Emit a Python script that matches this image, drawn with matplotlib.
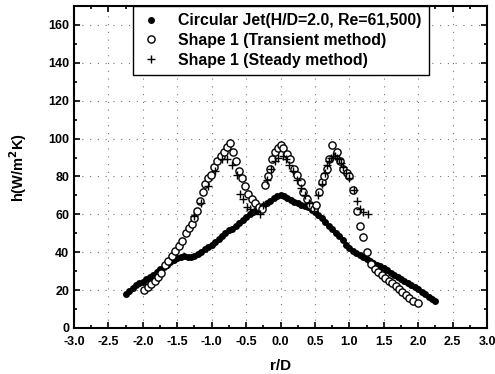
import numpy as np
import matplotlib
matplotlib.use("Agg")
import matplotlib.pyplot as plt
from matplotlib.ticker import MultipleLocator

# Circular jet (H/D=2.0, Re=61,500)
jet_r = [-2.25, -2.20, -2.15, -2.10, -2.05, -2.00, -1.95, -1.90, -1.85, -1.80,
         -1.75, -1.70, -1.65, -1.60, -1.55, -1.50, -1.45, -1.40, -1.35, -1.30,
         -1.25, -1.20, -1.15, -1.10, -1.05, -1.00, -0.95, -0.90, -0.85, -0.80,
         -0.75, -0.70, -0.65, -0.60, -0.55, -0.50, -0.45, -0.40, -0.35, -0.30,
         -0.25, -0.20, -0.15, -0.10, -0.05, 0.00, 0.05, 0.10, 0.15, 0.20,
         0.25, 0.30, 0.35, 0.40, 0.45, 0.50, 0.55, 0.60, 0.65, 0.70,
         0.75, 0.80, 0.85, 0.90, 0.95, 1.00, 1.05, 1.10, 1.15, 1.20,
         1.25, 1.30, 1.35, 1.40, 1.45, 1.50, 1.55, 1.60, 1.65, 1.70,
         1.75, 1.80, 1.85, 1.90, 1.95, 2.00, 2.05, 2.10, 2.15, 2.20, 2.25]
jet_h = [18, 19.5, 21, 22.5, 23.5, 24.5, 26, 27, 28, 29.5,
         31, 32, 33.5, 35, 36, 37, 37.5, 38, 37.5, 37.5,
         38, 39, 40, 41.5, 43, 44, 45.5, 47, 48.5, 50,
         51.5, 52.5, 54, 55.5, 57, 58.5, 60, 61, 62, 63,
         64.5, 66, 67, 68.5, 69.5, 70, 69.5, 68.5, 67.5, 66.5,
         66, 65, 64.5, 64, 62.5, 61, 59.5, 58, 56, 54,
         52, 50, 48.5, 46.5, 44, 42, 40.5, 39.5, 38.5, 37.5,
         36.5, 35.5, 34.5, 33.5, 32.5, 31.5, 30.5, 29, 28, 27,
         26, 25, 24, 22.5, 21.5, 20.5, 19, 18, 16.5, 15.5, 14.5]

# Shape 1 (Transient method)
tr_r = [-1.98, -1.93, -1.88, -1.83, -1.78, -1.73, -1.68, -1.63, -1.58, -1.53,
        -1.48, -1.43, -1.38, -1.33, -1.29, -1.25, -1.21, -1.17, -1.13, -1.10,
        -1.05, -1.01, -0.97, -0.92, -0.87, -0.82, -0.78, -0.73, -0.69, -0.65,
        -0.60, -0.56, -0.51, -0.47, -0.42, -0.37, -0.32, -0.27,
        -0.22, -0.18, -0.15, -0.12, -0.08, -0.04, 0.00, 0.04, 0.09, 0.14,
        0.19, 0.24, 0.29, 0.33, 0.38, 0.43, 0.48, 0.52, 0.56, 0.60,
        0.63, 0.67, 0.71, 0.75, 0.82, 0.87, 0.91, 0.96, 1.00, 1.05,
        1.11, 1.16, 1.20, 1.26, 1.32, 1.37, 1.42, 1.47, 1.52, 1.57,
        1.62, 1.67, 1.72, 1.77, 1.82, 1.87, 1.93, 2.00]
tr_h = [20, 21.5, 23, 25, 27, 29, 33, 35.5, 38, 40.5,
        43.5, 46, 50, 53, 55, 58, 62, 67, 72, 76,
        79, 81, 85, 88, 91, 93, 95.5, 97.5, 93, 88,
        83, 79, 75, 71, 68, 66, 64, 63,
        75.5, 80, 84, 89, 93, 95, 96.5, 95, 92, 89,
        84, 81, 77, 72, 68, 65, 63, 65, 72, 77,
        80, 84, 89, 96.5, 93, 88, 84, 82, 80, 73,
        62, 54, 48, 40, 34, 31, 29.5, 28, 26.5, 25,
        23.5, 22, 20.5, 19, 17.5, 16, 14.5, 13]

# Shape 1 (Steady method)
st_r = [-1.25, -1.15, -1.05, -0.95, -0.85, -0.78, -0.70, -0.63, -0.59, -0.54,
        -0.49, -0.44, -0.38, -0.30, -0.25, -0.20, -0.14, -0.08, -0.03, 0.03,
        0.08, 0.13, 0.18, 0.24, 0.30, 0.36, 0.42, 0.48, 0.55, 0.60,
        0.64, 0.67, 0.70, 0.73, 0.76, 0.79, 0.82, 0.85, 0.88, 0.91,
        0.95, 1.00, 1.06, 1.11, 1.15, 1.20, 1.27]
st_h = [59, 66, 75, 83, 89, 89, 86, 81, 71, 68,
        64, 63, 62, 60, 65, 78, 84, 88, 90, 91,
        89, 86, 83, 78, 74, 70, 66, 62, 70, 76,
        82, 86, 88, 90, 91, 91, 90, 89, 87, 85,
        82, 79, 73, 67, 63, 61, 60]

xticks = [-3.0, -2.5, -2.0, -1.5, -1.0, -0.5, 0.0, 0.5, 1.0, 1.5, 2.0, 2.5, 3.0]
yticks = [0, 20, 40, 60, 80, 100, 120, 140, 160]

plt.rcParams['font.family'] = ['Liberation Sans', 'DejaVu Sans']
plt.rcParams['font.weight'] = 'bold'

fig = plt.figure(figsize=(4.95, 3.74), dpi=100)
ax = fig.add_axes([0.1495, 0.123, 0.8345, 0.861])

ax.plot(jet_r, jet_h, 'o', color='black', ms=5, mew=0,
        label='Circular Jet(H/D=2.0, Re=61,500)')
ax.plot(tr_r, tr_h, 'o', mfc='white', mec='black', ms=5.2, mew=1.0,
        label='Shape 1 (Transient method)')
ax.plot(st_r, st_h, '+', color='black', ms=6, mew=1.0,
        label='Shape 1 (Steady method)')

ax.set_xlim(-3.0, 3.0)
ax.set_ylim(0, 170)
ax.set_xticks(xticks)
ax.set_xticklabels(['%.1f' % v for v in xticks])
ax.set_yticks(yticks)
ax.xaxis.set_minor_locator(MultipleLocator(0.25))
ax.yaxis.set_minor_locator(MultipleLocator(10))
ax.tick_params(which='both', direction='in', top=True, right=True,
               labelsize=9, width=1.2)
ax.tick_params(axis='x', pad=6)
ax.tick_params(which='major', length=4)
ax.tick_params(which='minor', length=2)
for lab in ax.get_xticklabels() + ax.get_yticklabels():
    lab.set_fontweight('bold')
for sp in ax.spines.values():
    sp.set_linewidth(1.5)

ax.grid(True, which='major', color='#777777', linestyle=(0, (1, 6)), linewidth=0.8)

ax.set_xlabel('r/D', fontsize=11, fontweight='bold', labelpad=8)
ax.set_ylabel('h(W/m$^\\mathbf{2}$K)', fontsize=10.5, fontweight='bold', labelpad=14)

leg = ax.legend(loc='upper left', bbox_to_anchor=(0.143, 1.0), borderaxespad=0,
                fancybox=False, framealpha=1, edgecolor='black',
                prop={'size': 11.4, 'weight': 'bold'}, handletextpad=1.0,
                labelspacing=0.3, borderpad=0.45, handlelength=1.4)
leg.get_frame().set_linewidth(1.0)

fig.savefig('out.png', dpi=100)
